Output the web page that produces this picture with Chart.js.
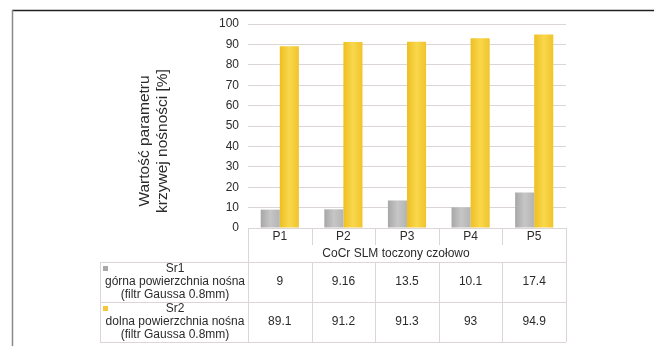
<!DOCTYPE html>
<html>
<head>
<meta charset="utf-8">
<script src="https://cdn.jsdelivr.net/npm/chart.js@4/dist/chart.umd.min.js"></script>
<style>
  html, body { margin: 0; padding: 0; background: #fff; }
  #wrap { width: 654px; height: 346px; position: relative; }
</style>
</head>
<body>
<div id="wrap"><canvas id="c" width="654" height="346"></canvas></div>
<script>
// Samples and measured bearing-curve parameters
const categories = ['P1', 'P2', 'P3', 'P4', 'P5'];
const sr1Values = [9, 9.16, 13.5, 10.1, 17.4];
const sr2Values = [89.1, 91.2, 91.3, 93, 94.9];
const groupLabel = 'CoCr SLM toczony czołowo';
const sr1Label = ['Sr1', 'górna powierzchnia nośna', '(filtr Gaussa 0.8mm)'];
const sr2Label = ['Sr2', 'dolna powierzchnia nośna', '(filtr Gaussa 0.8mm)'];
const yTitle = ['Wartość parametru', 'krzywej nośności [%]'];
const yMin = 0, yMax = 100, yStep = 10;

const FONT = "'Liberation Sans', Arial, sans-serif";
const TEXT = '#2b2b2b';
const LINE = '#dcd5d5';

// horizontal shading across one bar, computed from the x scale
function barGradient(ctx, stops, side) {
  const chart = ctx.chart;
  const xs = chart.scales.x;
  if (!xs || ctx.dataIndex == null) return stops[1];
  const catW = (xs.right - xs.left) / categories.length;
  const bw = catW * 0.6 / 2;
  const cx = xs.getPixelForValue(ctx.dataIndex);
  const x0 = side === 0 ? cx - bw : cx;
  if (!isFinite(x0) || !isFinite(bw) || bw <= 0) return stops[1];
  const g = chart.ctx.createLinearGradient(x0, 0, x0 + bw, 0);
  g.addColorStop(0, stops[0]);
  g.addColorStop(0.5, stops[1]);
  g.addColorStop(1, stops[2]);
  return g;
}

// outer frame, axis title and the data table under the plot
const decor = {
  id: 'decor',
  beforeDraw(chart) {
    const c = chart.ctx;
    c.save();
    c.fillStyle = '#fff';
    c.fillRect(0, 0, chart.width, chart.height);
    c.strokeStyle = '#222';
    c.lineWidth = 1.5;
    c.beginPath(); c.moveTo(12, 10.5); c.lineTo(chart.width, 10.5); c.stroke();
    c.strokeStyle = '#8a8a8a';
    c.beginPath(); c.moveTo(12.5, 10); c.lineTo(12.5, chart.height); c.stroke();
    c.restore();
  },
  afterDraw(chart) {
    const c = chart.ctx;
    const a = chart.chartArea;
    const xs = chart.scales.x;
    const n = categories.length;
    const catW = (a.right - a.left) / n;
    const bounds = [];
    for (let i = 0; i < n; i++) bounds.push(xs.getPixelForValue(i) - catW / 2);
    bounds.push(a.right);

    const rowP = a.bottom, rowG = a.bottom + 17, row1 = a.bottom + 34, row2 = a.bottom + 74, rowEnd = a.bottom + 114;
    const colL = 100;
    const px = v => Math.round(v) + 0.5;

    c.save();
    c.strokeStyle = LINE;
    c.lineWidth = 1;
    c.beginPath();
    // category label row
    bounds.forEach(b => { c.moveTo(px(b), rowP); c.lineTo(px(b), rowG); });
    // group row side borders
    c.moveTo(px(a.left), rowG); c.lineTo(px(a.left), row1);
    c.moveTo(px(a.right), rowG); c.lineTo(px(a.right), row1);
    // value rows
    [row1, row2, rowEnd].forEach(y => { c.moveTo(colL, px(y)); c.lineTo(a.right, px(y)); });
    c.moveTo(px(colL), row1); c.lineTo(px(colL), rowEnd);
    bounds.forEach(b => { c.moveTo(px(b), row1); c.lineTo(px(b), rowEnd); });
    c.moveTo(a.left, px(rowP)); c.lineTo(a.right, px(rowP));
    c.stroke();

    c.fillStyle = TEXT;
    c.font = '12px ' + FONT;
    c.textAlign = 'center';
    c.textBaseline = 'middle';
    categories.forEach((t, i) => c.fillText(t, xs.getPixelForValue(i), rowP + 9));
    c.fillText(groupLabel, 396, rowG + 8.5);

    const labelX = (colL + a.left) / 2 + 1;
    const rows = [
      { top: row1, label: sr1Label, vals: sr1Values, color: '#a9a9a9' },
      { top: row2, label: sr2Label, vals: sr2Values, color: '#f3c63c' }
    ];
    rows.forEach(r => {
      c.fillStyle = r.color;
      c.fillRect(103, r.top + 4, 5, 5);
      c.fillStyle = TEXT;
      r.label.forEach((t, k) => c.fillText(t, labelX, r.top + 7 + k * 13));
      r.vals.forEach((v, i) => c.fillText(String(v), xs.getPixelForValue(i), r.top + 20));
    });

    // rotated axis title
    c.font = '15.5px ' + FONT;
    c.fillStyle = TEXT;
    yTitle.forEach((t, k) => {
      c.save();
      c.translate(145 + k * 18, 141);
      c.rotate(-Math.PI / 2);
      c.fillText(t, 0, 0);
      c.restore();
    });
    c.restore();
  }
};

new Chart(document.getElementById('c'), {
  type: 'bar',
  data: {
    labels: categories,
    datasets: [
      {
        label: sr1Label.join(' '),
        data: sr1Values,
        backgroundColor: ctx => barGradient(ctx, ['#a7a7a7', '#c6c6c6', '#b4b4b4'], 0),
        borderWidth: 0
      },
      {
        label: sr2Label.join(' '),
        data: sr2Values,
        backgroundColor: ctx => barGradient(ctx, ['#eebf22', '#f9d74c', '#f0c42c'], 1),
        borderWidth: 0
      }
    ]
  },
  options: {
    responsive: false,
    animation: false,
    devicePixelRatio: 1,
    layout: { padding: { left: 0, right: 88, top: 24, bottom: 118 } },
    datasets: { bar: { categoryPercentage: 0.6, barPercentage: 1.0 } },
    plugins: { legend: { display: false }, tooltip: { enabled: false } },
    scales: {
      x: { display: false, offset: true },
      y: {
        min: yMin, max: yMax,
        ticks: { stepSize: yStep, padding: 9, color: TEXT, font: { family: FONT, size: 12 } },
        grid: { color: LINE, drawTicks: false },
        border: { display: false },
        afterFit: s => { s.width = 248; }
      }
    }
  },
  plugins: [decor]
});
</script>
</body>
</html>
